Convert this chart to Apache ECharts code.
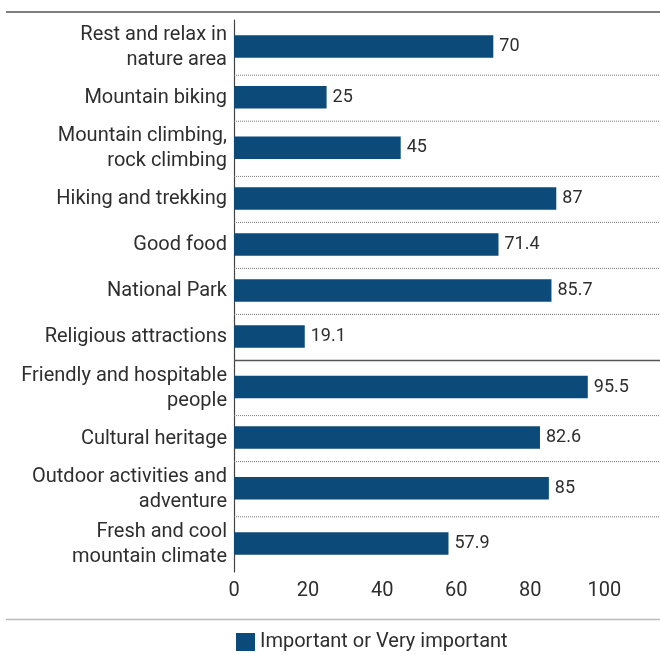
<!DOCTYPE html>
<html><head><meta charset="utf-8">
<script src="https://cdn.jsdelivr.net/npm/echarts@6/dist/echarts.min.js"></script>
<style>html,body{margin:0;padding:0;background:#fff}#c{width:660px;height:654px}</style>
</head><body><div id="c"></div>
<script>
// ---- data ----
const categories = [
  'Rest and relax in\nnature area',
  'Mountain biking',
  'Mountain climbing,\nrock climbing',
  'Hiking and trekking',
  'Good food',
  'National Park',
  'Religious attractions',
  'Friendly and hospitable\npeople',
  'Cultural heritage',
  'Outdoor activities and\nadventure',
  'Fresh and cool\nmountain climate'
];
const values = [70, 25, 45, 87, 71.4, 85.7, 19.1, 95.5, 82.6, 85, 57.9];
const xTicks = [0, 20, 40, 60, 80, 100];
const seriesName = 'Important or Very important';
const groupBreakAfter = 6; // solid divider after "Religious attractions"

// ---- layout derived from labels ----
const rowUnits = categories.map(c => c.indexOf('\n') >= 0 ? 6 : 5);
const rowStart = [], rowCenter = [];
let acc = 0;
rowUnits.forEach(u => { rowStart.push(acc); rowCenter.push(acc + u / 2); acc += u; });
const totalUnits = acc;
const boundaries = rowStart.slice(1);
const xMax = 115;

const barColor = '#0c4a7a';
const textColor = '#2e2e2e';
const font = 'Roboto';

const nameByCenter = {};
rowCenter.forEach((c, i) => { nameByCenter[c] = categories[i]; });

const chart = echarts.init(document.getElementById('c'), null, {renderer: 'canvas'});
chart.setOption({
  animation: false,
  backgroundColor: '#fff',
  textStyle: {fontFamily: font},
  grid: {left: 234, right: 0, top: 20, bottom: 82},
  xAxis: {
    type: 'value', min: 0, max: xMax, interval: 20,
    axisLine: {show: false}, axisTick: {show: false}, splitLine: {show: false},
    axisLabel: {
      customValues: xTicks,
      formatter: v => (xTicks.indexOf(v) >= 0 ? String(v) : ''),
      color: textColor, fontSize: 20, fontFamily: font, margin: 9
    }
  },
  yAxis: {
    type: 'value', inverse: true, min: 0, max: totalUnits,
    axisLine: {show: true, lineStyle: {color: '#444', width: 1.2}},
    axisTick: {show: false, customValues: rowCenter},
    splitLine: {show: false},
    axisLabel: {
      customValues: rowCenter,
      formatter: v => nameByCenter[v] || '',
      color: textColor, fontSize: 20, lineHeight: 25, fontFamily: font, margin: 7, align: 'right'
    }
  },
  legend: {
    data: [{name: seriesName, icon: 'rect'}],
    left: 231, top: 627, itemWidth: 19, itemHeight: 18,
    textStyle: {color: textColor, fontSize: 20, fontFamily: font}
  },
  graphic: [
    {type: 'line', shape: {x1: 6, y1: 12, x2: 660, y2: 12}, style: {stroke: '#555', lineWidth: 1.5}},
    {type: 'line', shape: {x1: 6, y1: 619.5, x2: 660, y2: 619.5}, style: {stroke: '#bbb', lineWidth: 1.5}}
  ],
  series: [
    {
      type: 'custom',
      name: 'dividers',
      silent: true,
      encode: {x: 0, y: 1},
      data: boundaries.map((b, i) => [0, b, i]),
      renderItem: function (params, api) {
        const b = api.value(1);
        const i = api.value(2);
        const p0 = api.coord([0, b]);
        const p1 = api.coord([xMax, b]);
        const solid = (i === groupBreakAfter);
        return {
          type: 'line',
          shape: {x1: p0[0], y1: p0[1], x2: p1[0], y2: p1[1]},
          style: solid ? {stroke: '#555', lineWidth: 1.5}
                       : {stroke: '#777', lineWidth: 1, lineDash: [1, 1]}
        };
      }
    },
    {
      type: 'custom',
      name: seriesName,
      itemStyle: {color: barColor},
      encode: {x: 0, y: 1},
      data: values.map((v, i) => [v, rowCenter[i], i]),
      renderItem: function (params, api) {
        const v = api.value(0), c = api.value(1), i = api.value(2);
        const s = api.coord([0, c]);
        const e = api.coord([v, c]);
        const h = 22.5;
        return {
          type: 'group',
          children: [
            {type: 'rect', shape: {x: s[0], y: s[1] - h / 2 - 1, width: e[0] - s[0], height: h},
             style: {fill: api.visual('color')}},
            {type: 'text', x: e[0] + 6, y: e[1] - 1,
             style: {text: String(values[i]), fill: textColor, fontSize: 18, fontFamily: font,
                     verticalAlign: 'middle', align: 'left'}}
          ]
        };
      }
    }
  ]
});
</script>
</body></html>
